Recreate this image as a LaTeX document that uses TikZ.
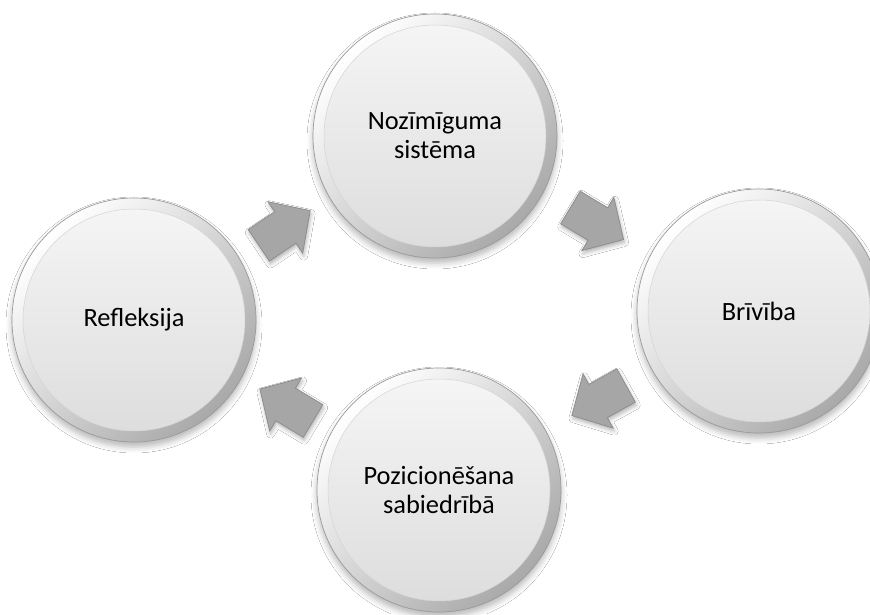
\documentclass[tikz,border=0pt]{standalone}
\usepackage{fontspec}
\setmainfont{Carlito}
\usetikzlibrary{calc,shadows.blur}

\definecolor{rimline}{HTML}{9A9A9A}
\definecolor{ringdark}{HTML}{A9A9A9}
\definecolor{discTop}{HTML}{F6F6F6}
\definecolor{discBottom}{HTML}{DCDCDC}
\definecolor{discEdge}{HTML}{D4D4D4}
\definecolor{arrowfill}{HTML}{A6A6A6}
\definecolor{arrowedge}{HTML}{8E8E8E}

\begin{document}
\begin{tikzpicture}[x=1pt,y=1pt,
  bubble/.style={circle, minimum size=244pt, inner sep=0pt,
    draw=rimline, line width=0.7pt,
    top color=white, bottom color=ringdark, shading angle=45,
    blur shadow={shadow xshift=0pt, shadow yshift=-5pt,
      shadow blur radius=6pt, shadow opacity=28},
    path picture={
      \shade[top color=discTop, bottom color=discBottom]
        (path picture bounding box.center) circle[radius=111pt];
      \draw[discEdge, line width=0.5pt]
        (path picture bounding box.center) circle[radius=111pt];
    },
    font=\fontsize{26.4}{29}\selectfont, align=center, text=black},
  arrowbody/.style={fill=arrowfill, draw=arrowedge, line width=0.8pt,
    line join=miter,
    blur shadow={shadow xshift=1pt, shadow yshift=-3pt,
      shadow blur radius=4pt, shadow opacity=30}},
  cyclearrow/.pic={
    \filldraw[arrowbody] (-31,-19) -- (1,-19) -- (1,-31) -- (31,0)
      -- (1,31) -- (1,19) -- (-31,19) -- cycle;
  }]

  % page
  \fill[white] (0,0) rectangle (870,614);
  \useasboundingbox (0,0) rectangle (870,614);

  % the four stages
  \node[bubble] (top)    at (435,478) {Nozīmīguma\\sistēma};
  \node[bubble] (right)  at (759,303) {Brīvība};
  \node[bubble] (bottom) at (439,124) {Pozicionēšana\\sabiedrībā};
  \node[bubble] (left)   at (134,294) {Refleksija};

  % block arrows of the cycle
  \pic[rotate=34]   at ($(left)!0.5!(top)$)     {cyclearrow};
  \pic[rotate=-31]  at ($(top)!0.5!(right)$)    {cyclearrow};
  \pic[rotate=-151] at ($(right)!0.5!(bottom)$) {cyclearrow};
  \pic[rotate=149]  at ($(bottom)!0.5!(left)$)  {cyclearrow};
\end{tikzpicture}
\end{document}
